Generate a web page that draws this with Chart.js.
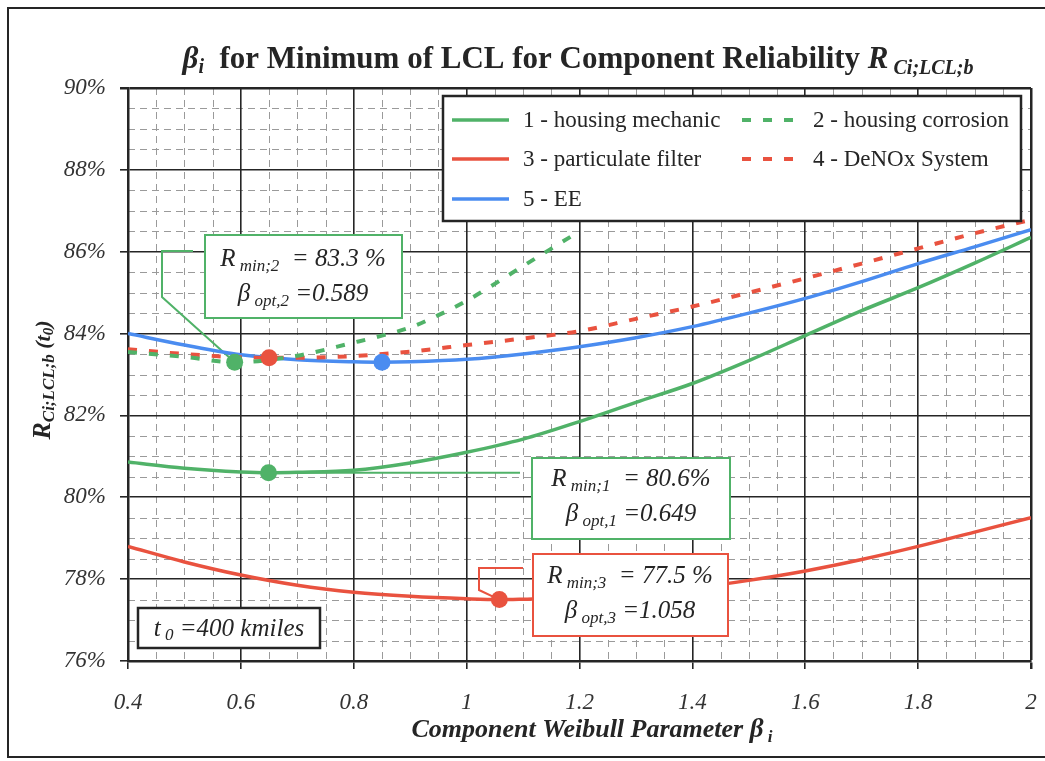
<!DOCTYPE html>
<html>
<head>
<meta charset="utf-8">
<script src="https://cdn.jsdelivr.net/npm/chart.js@4.4.1/dist/chart.umd.min.js"></script>
<style>
  html, body { margin: 0; padding: 0; background: #fff; }
  canvas { display: block; }
</style>
</head>
<body>
<canvas id="weibullChart" width="1045" height="761"></canvas>
<script>
// axis ticks
const betaTicks = [0.4, 0.6, 0.8, 1, 1.2, 1.4, 1.6, 1.8, 2];
const reliabilityTicks = [76, 78, 80, 82, 84, 86, 88, 90];

// R_LCL (%) over component Weibull parameter beta
const betaHousingMech = [0.4, 0.5, 0.6, 0.649, 0.7, 0.8, 0.9, 1.0, 1.1, 1.2, 1.3, 1.4, 1.5, 1.6, 1.7, 1.8, 1.9, 2.0];
const rHousingMech = [80.86, 80.71, 80.62, 80.6, 80.61, 80.66, 80.84, 81.1, 81.42, 81.85, 82.32, 82.78, 83.34, 83.95, 84.56, 85.12, 85.72, 86.35];

const betaHousingCorr = [0.4, 0.5, 0.589, 0.7, 0.8, 0.85, 0.9, 0.95, 1.0, 1.1, 1.2];
const rHousingCorr = [83.55, 83.43, 83.3, 83.46, 83.78, 83.95, 84.15, 84.45, 84.8, 85.65, 86.5];

const betaFilter = [0.4, 0.5, 0.6, 0.7, 0.8, 0.9, 1.0, 1.058, 1.1, 1.2, 1.3, 1.4, 1.5, 1.6, 1.7, 1.8, 1.9, 2.0];
const rFilter = [78.8, 78.42, 78.1, 77.85, 77.68, 77.58, 77.52, 77.5, 77.51, 77.55, 77.64, 77.78, 77.97, 78.2, 78.48, 78.8, 79.15, 79.5];

const betaDenox = [0.4, 0.5, 0.6, 0.65, 0.7, 0.8, 0.9, 1.0, 1.1, 1.2, 1.3, 1.4, 1.5, 1.6, 1.7, 1.8, 1.9, 2.0];
const rDenox = [83.62, 83.5, 83.42, 83.41, 83.41, 83.45, 83.56, 83.72, 83.88, 84.06, 84.36, 84.66, 85.0, 85.35, 85.71, 86.08, 86.45, 86.78];

const betaEE = [0.4, 0.5, 0.6, 0.7, 0.8, 0.85, 0.9, 1.0, 1.1, 1.2, 1.3, 1.4, 1.5, 1.6, 1.7, 1.8, 1.9, 2.0];
const rEE = [84.0, 83.72, 83.48, 83.36, 83.31, 83.3, 83.31, 83.37, 83.5, 83.68, 83.9, 84.17, 84.5, 84.86, 85.27, 85.71, 86.12, 86.54];

// minima [beta_opt, R_min]
const minMech = [0.649, 80.6];
const minCorr = [0.589, 83.3];
const minFilter = [1.058, 77.5];
const minDenox = [0.65, 83.41];
const minEE = [0.85, 83.3];

const GREEN = '#50b268';
const RED = '#e9523f';
const BLUE = '#4a8cf0';
const INK = '#252525';
const SERIF = '"Liberation Serif", "Times New Roman", serif';
const DASH = [9, 12];

const pts = (xs, ys) => xs.map((x, i) => ({ x: x, y: ys[i] }));

function curve(label, xs, ys, color, dashed) {
    return {
        label: label,
        data: pts(xs, ys),
        borderColor: color,
        borderWidth: dashed ? 4 : 3.5,
        borderDash: dashed ? DASH : [],
        pointRadius: 0,
        cubicInterpolationMode: 'monotone',
        fill: false,
        order: 1,
        showInLegend: true
    };
}

// --- mixed size text (subscripts)
function runsWidth(ctx, runs) {
    let w = 0;
    runs.forEach(r => { ctx.font = r.font; w += ctx.measureText(r.text).width; });
    return w;
}
function drawRuns(ctx, runs, x, y, align) {
    const w = runsWidth(ctx, runs);
    let cx = align === 'center' ? x - w / 2 : (align === 'right' ? x - w : x);
    ctx.textAlign = 'left';
    ctx.textBaseline = 'alphabetic';
    runs.forEach(r => {
        ctx.font = r.font;
        ctx.fillStyle = r.color || INK;
        ctx.fillText(r.text, cx, y + (r.dy || 0));
        cx += ctx.measureText(r.text).width;
    });
}
const f = (size, style) => (style || '') + ' ' + size + 'px ' + SERIF;

function resultLines(idx, rText, bText) {
    return [
        [{ text: 'R', font: f(25, 'italic') },
         { text: ' min;' + idx, font: f(17, 'italic'), dy: 5 },
         { text: '  = ' + rText, font: f(25, 'italic') }],
        [{ text: 'β', font: f(25, 'italic') },
         { text: ' opt,' + idx, font: f(17, 'italic'), dy: 5 },
         { text: ' =' + bText, font: f(25, 'italic') }]
    ];
}

function box(ctx, x, y, w, h, color, lw) {
    ctx.save();
    ctx.fillStyle = '#fff';
    ctx.fillRect(x, y, w, h);
    ctx.strokeStyle = color;
    ctx.lineWidth = lw;
    ctx.strokeRect(x, y, w, h);
    ctx.restore();
}

function polyline(ctx, color, points) {
    ctx.save();
    ctx.strokeStyle = color;
    ctx.lineWidth = 2;
    ctx.beginPath();
    points.forEach((p, i) => i ? ctx.lineTo(p[0], p[1]) : ctx.moveTo(p[0], p[1]));
    ctx.stroke();
    ctx.restore();
}

const decor = {
    id: 'decor',
    beforeDraw(chart) {
        const ctx = chart.ctx;
        const xs = chart.scales.x, ys = chart.scales.y;
        const area = chart.chartArea;
        ctx.save();
        ctx.fillStyle = '#fff';
        ctx.fillRect(0, 0, chart.width, chart.height);
        // outer frame
        ctx.strokeStyle = INK;
        ctx.lineWidth = 2;
        ctx.beginPath();
        ctx.moveTo(chart.width + 2, 8);
        ctx.lineTo(8, 8);
        ctx.lineTo(8, 757);
        ctx.lineTo(chart.width + 2, 757);
        ctx.stroke();

        // minor dashed grid, 4 divisions between major ticks
        ctx.strokeStyle = '#9a9a9a';
        ctx.lineWidth = 1;
        ctx.setLineDash([7, 5]);
        for (let i = 0; i < betaTicks.length - 1; i++) {
            const step = (betaTicks[i + 1] - betaTicks[i]) / 4;
            for (let k = 1; k < 4; k++) {
                const px = Math.round(xs.getPixelForValue(betaTicks[i] + k * step)) + 0.5;
                ctx.beginPath();
                ctx.moveTo(px, area.top);
                ctx.lineTo(px, area.bottom);
                ctx.stroke();
            }
        }
        for (let i = 0; i < reliabilityTicks.length - 1; i++) {
            const step = (reliabilityTicks[i + 1] - reliabilityTicks[i]) / 4;
            for (let k = 1; k < 4; k++) {
                const py = Math.round(ys.getPixelForValue(reliabilityTicks[i] + k * step)) + 0.5;
                ctx.beginPath();
                ctx.moveTo(area.left, py);
                ctx.lineTo(area.right, py);
                ctx.stroke();
            }
        }
        ctx.restore();
    },
    beforeDatasetsDraw(chart) {
        const ctx = chart.ctx;
        const xs = chart.scales.x, ys = chart.scales.y;
        const dot = m => [xs.getPixelForValue(m[0]), ys.getPixelForValue(m[1])];
        const d1 = dot(minMech), d2 = dot(minCorr), d3 = dot(minFilter);
        polyline(ctx, GREEN, [[193, 251], [162, 251], [162, 297], d2]);
        polyline(ctx, GREEN, [d1, [520, d1[1]]]);
        polyline(ctx, RED, [[523, 568], [479, 568], [479, 590], d3]);
    },
    afterDatasetsDraw(chart) {
        const ctx = chart.ctx;

        // result boxes
        box(ctx, 205, 235, 197, 83, GREEN, 2);
        resultLines(2, '83.3 %', '0.589').forEach((l, i) => drawRuns(ctx, l, 303, 266 + i * 35, 'center'));
        box(ctx, 532, 458, 198, 81, GREEN, 2);
        resultLines(1, '80.6%', '0.649').forEach((l, i) => drawRuns(ctx, l, 631, 486 + i * 35, 'center'));
        box(ctx, 533, 554, 195, 82, RED, 2);
        resultLines(3, '77.5 %', '1.058').forEach((l, i) => drawRuns(ctx, l, 630, 583 + i * 35, 'center'));

        // mission time
        box(ctx, 138, 608, 182, 40, INK, 2.5);
        drawRuns(ctx, [
            { text: 't', font: f(25, 'italic') },
            { text: ' 0', font: f(17, 'italic'), dy: 4 },
            { text: ' =400 kmiles', font: f(25, 'italic') }
        ], 229, 636, 'center');

        // legend, two columns
        box(ctx, 443, 96, 578, 125, INK, 2.5);
        const items = chart.data.datasets.filter(d => d.showInLegend);
        const cols = [452, 742], rows = [120, 159, 199];
        items.forEach((d, i) => {
            const cx = cols[i % 2], cy = rows[Math.floor(i / 2)];
            ctx.save();
            ctx.strokeStyle = d.borderColor;
            ctx.lineWidth = d.borderWidth;
            ctx.setLineDash(d.borderDash);
            ctx.beginPath();
            ctx.moveTo(cx, cy);
            ctx.lineTo(cx + 57, cy);
            ctx.stroke();
            ctx.restore();
            drawRuns(ctx, [{ text: d.label, font: f(23) }], cx + 71, cy + 7, 'left');
        });

        // titles
        drawRuns(ctx, [
            { text: 'β', font: f(31, 'bold italic') },
            { text: 'i', font: f(20, 'bold italic'), dy: 5 },
            { text: '  for Minimum of LCL for Component Reliability ', font: f(31, 'bold') },
            { text: 'R', font: f(31, 'bold italic') },
            { text: ' Ci;LCL;b', font: f(20, 'bold italic'), dy: 6 }
        ], 578, 68, 'center');

        drawRuns(ctx, [
            { text: 'Component Weibull Parameter ', font: f(26, 'bold italic') },
            { text: 'β', font: f(27, 'bold italic') },
            { text: ' i', font: f(17, 'bold italic'), dy: 5 }
        ], 592, 737, 'center');

        ctx.save();
        ctx.translate(50, 380);
        ctx.rotate(-Math.PI / 2);
        drawRuns(ctx, [
            { text: 'R', font: f(26, 'bold italic') },
            { text: 'Ci;LCL;b', font: f(17, 'bold italic'), dy: 4 },
            { text: ' (t', font: f(22, 'bold italic') },
            { text: '0', font: f(15, 'bold italic'), dy: 3 },
            { text: ')', font: f(22, 'bold italic') }
        ], 0, 0, 'center');
        ctx.restore();
    }
};

const ctx = document.getElementById('weibullChart').getContext('2d');

new Chart(ctx, {
    type: 'line',
    data: {
        datasets: [
            {
                label: 'minima',
                data: [minCorr, minMech, minDenox, minEE, minFilter].map(m => ({ x: m[0], y: m[1] })),
                showLine: false,
                pointRadius: 8.5,
                pointBorderWidth: 0,
                pointBackgroundColor: [GREEN, GREEN, RED, BLUE, RED],
                order: 0
            },
            curve('1 - housing mechanic', betaHousingMech, rHousingMech, GREEN, false),
            curve('2 - housing corrosion', betaHousingCorr, rHousingCorr, GREEN, true),
            curve('3 - particulate filter', betaFilter, rFilter, RED, false),
            curve('4 - DeNOx System', betaDenox, rDenox, RED, true),
            curve('5 - EE', betaEE, rEE, BLUE, false)
        ]
    },
    options: {
        responsive: false,
        animation: false,
        layout: { padding: { top: 88, right: 14, left: 0, bottom: 0 } },
        plugins: {
            legend: { display: false },
            tooltip: { enabled: false }
        },
        scales: {
            x: {
                type: 'linear',
                min: 0.4,
                max: 2,
                afterBuildTicks: s => { s.ticks = betaTicks.map(v => ({ value: v })); },
                afterFit: s => { s.height = 100; s.paddingLeft = 0; s.paddingRight = 0; },
                ticks: {
                    color: '#333',
                    padding: 20,
                    maxRotation: 0,
                    callback: v => String(+Number(v).toFixed(1)),
                    font: { family: SERIF, size: 23, style: 'italic' }
                },
                grid: {
                    color: INK,
                    lineWidth: c => (c.tick && c.tick.value === 2) ? 2.5 : 1.6,
                    tickLength: 8
                },
                border: { color: INK, width: 2.5 }
            },
            y: {
                min: 76,
                max: 90,
                afterBuildTicks: s => { s.ticks = reliabilityTicks.map(v => ({ value: v })); },
                afterFit: s => { s.width = 128; s.paddingTop = 0; s.paddingBottom = 0; },
                ticks: {
                    color: '#333',
                    padding: 14,
                    callback: v => v + '%',
                    font: { family: SERIF, size: 23, style: 'italic' }
                },
                grid: {
                    color: INK,
                    lineWidth: c => (c.tick && c.tick.value === 90) ? 2.5 : 1.6,
                    tickLength: 8
                },
                border: { color: INK, width: 2.5 }
            }
        }
    },
    plugins: [decor]
});
</script>
</body>
</html>
